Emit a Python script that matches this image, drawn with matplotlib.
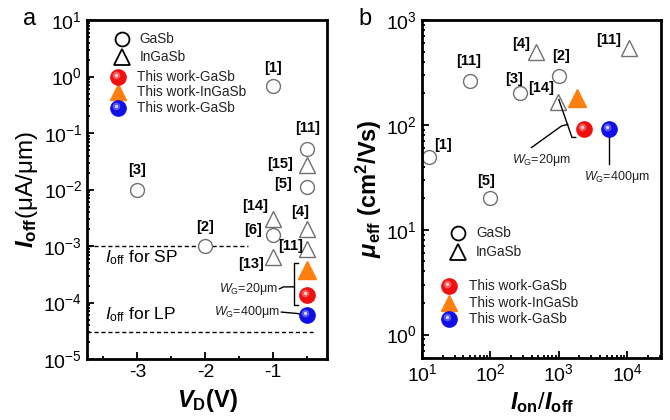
import numpy as np
import matplotlib
matplotlib.use("Agg")
from matplotlib import pyplot as plt
from matplotlib import transforms

plt.rcParams['font.family'] = ['Liberation Sans', 'DejaVu Sans']
plt.rcParams['mathtext.fontset'] = 'custom'
plt.rcParams['mathtext.rm'] = 'Liberation Sans:bold'
plt.rcParams['mathtext.bf'] = 'Liberation Sans:bold:italic'
plt.rcParams['mathtext.it'] = 'Liberation Sans:italic'
plt.rcParams['mathtext.sf'] = 'Liberation Sans'

# ---- panel a : Ioff vs VD ----
a_gasb_vd = [-1, -3, -0.5, -0.5, -2, -1]
a_gasb_ioff = [0.68, 0.01, 0.052, 0.011, 1.0e-3, 1.6e-3]
a_gasb_ref = ['[1]', '[3]', '[11]', '[5]', '[2]', '[6]']

a_ingasb_vd = [-0.5, -1, -1, -0.5, -0.5]
a_ingasb_ioff = [0.027, 3.0e-3, 6.5e-4, 2.0e-3, 9.0e-4]
a_ingasb_ref = ['[15]', '[14]', '[13]', '[4]', '[11]']

a_this_vd = [-0.5, -0.5, -0.5]           # red GaSb, orange InGaSb, blue GaSb
a_this_ioff = [1.35e-4, 3.8e-4, 6.0e-5]

sp_level = 1e-3
lp_level = 3e-5

# ---- panel b : mu_eff vs Ion/Ioff ----
b_gasb_ratio = [12.7, 51, 270, 100, 1000]
b_gasb_mu = [50, 263, 202, 20, 293]
b_gasb_ref = ['[1]', '[11]', '[3]', '[5]', '[2]']

b_ingasb_ratio = [460, 980, 10700]
b_ingasb_mu = [495, 166, 540]
b_ingasb_ref = ['[4]', '[14]', '[11]']

b_this_ratio = [2350, 1830, 5400]
b_this_mu = [91, 181, 91]

red = '#f01010'
orange = '#ff7f0e'
blue = '#1010e6'
gray = '#707070'
txt = '#222222'


def sphere(ax, x, y, color, size=11, transform=None):
    tr = ax.transData if transform is None else transform
    ax.plot(x, y, 'o', ms=size, color=color, mec=color, transform=tr, zorder=5)
    hl = transforms.offset_copy(tr, fig=ax.figure, x=-1.3, y=1.3, units='points')
    ax.plot(x, y, 'o', ms=size * 0.5, color='white', mec='none', alpha=0.3,
            transform=hl, zorder=6)
    hl2 = transforms.offset_copy(tr, fig=ax.figure, x=-1.6, y=1.6, units='points')
    ax.plot(x, y, 'o', ms=size * 0.22, color='white', mec='none', alpha=0.75,
            transform=hl2, zorder=6)


def style(ax):
    for s in ax.spines.values():
        s.set_linewidth(2)
    ax.tick_params(which='both', direction='in', top=False, right=False,
                   labelsize=14, width=1.3)
    ax.tick_params(which='major', length=5)
    ax.tick_params(which='minor', length=2.5)


def legend_block(ax, xs, ys, xt):
    t = ax.transAxes
    ax.plot(xs[0], ys[0], 'o', ms=10, mfc='white', mec='black', mew=1.3, transform=t, clip_on=False)
    ax.plot(xs[0], ys[1], '^', ms=11, mfc='white', mec='black', mew=1.3, transform=t, clip_on=False)
    ax.text(xt[0], ys[0], 'GaSb', transform=t, va='center', fontsize=9.8, color=txt)
    ax.text(xt[0], ys[1], 'InGaSb', transform=t, va='center', fontsize=9.8, color=txt)
    sphere(ax, xs[1], ys[2], red, transform=t)
    ax.plot(xs[1], ys[3], '^', ms=12, color=orange, transform=t)
    sphere(ax, xs[1], ys[4], blue, transform=t)
    ax.text(xt[1], ys[2], 'This work-GaSb', transform=t, va='center', fontsize=9.8, color=txt)
    ax.text(xt[1], ys[3], 'This work-InGaSb', transform=t, va='center', fontsize=9.8, color=txt)
    ax.text(xt[1], ys[4], 'This work-GaSb', transform=t, va='center', fontsize=9.8, color=txt)


fig = plt.figure(figsize=(6.7, 4.2), dpi=100)
ax1 = fig.add_axes([0.130, 0.145, 0.358, 0.807])
ax2 = fig.add_axes([0.630, 0.148, 0.357, 0.804])

# panel a
ax1.set_yscale('log')
ax1.set_xlim(-3.74, -0.21)
ax1.set_ylim(1e-5, 10)
ax1.plot(a_gasb_vd, a_gasb_ioff, 'o', ms=10, mfc='white', mec=gray, mew=1)
ax1.plot(a_ingasb_vd, a_ingasb_ioff, '^', ms=11, mfc='white', mec=gray, mew=1)
sphere(ax1, a_this_vd[0], a_this_ioff[0], red)
ax1.plot(a_this_vd[1], a_this_ioff[1], '^', ms=13, color=orange, zorder=5)
sphere(ax1, a_this_vd[2], a_this_ioff[2], blue)

ax1.plot([-3.74, -1.37], [sp_level, sp_level], 'k--', lw=1, dashes=(3, 2), zorder=1)
ax1.plot([-3.74, -0.42], [lp_level, lp_level], 'k--', lw=1, dashes=(3, 2), zorder=1)
ax1.text(-3.47, sp_level * 0.62, r'$\mathit{I}_{\mathsf{off}}$ for SP', fontsize=12.5, va='center')
ax1.text(-3.47, lp_level * 2.05, r'$\mathit{I}_{\mathsf{off}}$ for LP', fontsize=12.5, va='center')

a_off = {'[1]': (-1.0, 2.1), '[3]': (-3.0, 2.2), '[11]': (-0.5, 2.4), '[5]': (-0.86, 1.15),
         '[2]': (-2.0, 2.2), '[6]': (-1.3, 1.2)}
for r, x, y in zip(a_gasb_ref, a_gasb_vd, a_gasb_ioff):
    dx, f = a_off[r]
    ax1.text(dx, y * f, r, ha='center', va='center', fontsize=10.5, fontweight='bold')
a_off2 = {'[15]': (-0.9, 1.05), '[14]': (-1.27, 1.7), '[13]': (-1.33, 0.75),
          '[4]': (-0.6, 2.0), '[11]': (-0.74, 1.1)}
for r, x, y in zip(a_ingasb_ref, a_ingasb_vd, a_ingasb_ioff):
    dx, f = a_off2[r]
    ax1.text(dx, y * f, r, ha='center', va='center', fontsize=10.5, fontweight='bold')

# bracket + W_G labels (panel a)
bx = -0.7
ax1.plot([bx + 0.06, bx, bx, bx + 0.06], [5.0e-4, 5.0e-4, 9.0e-5, 9.0e-5], 'k-', lw=1)
ax1.plot([-0.91, -0.85, bx], [1.75e-4, 1.9e-4, 1.9e-4], 'k-', lw=1)
ax1.text(-0.93, 1.75e-4, r'$W_{\mathsf{G}}$=20μm', fontsize=9, ha='right', va='center', color=txt)
ax1.plot([-0.88, -0.64, -0.6], [6.8e-5, 6.4e-5, 6.2e-5], 'k-', lw=1)
ax1.text(-0.9, 6.8e-5, r'$W_{\mathsf{G}}$=400μm', fontsize=9, ha='right', va='center', color=txt)

legend_block(ax1, [0.146, 0.13], [0.944, 0.891, 0.832, 0.788, 0.740], [0.22, 0.21])

ax1.set_xticks([-3, -2, -1])
ax1.set_xticks([-3.5, -2.5, -1.5, -0.5], minor=True)
ax1.set_xticklabels(['-3', '-2', '-1'])
ax1.set_yticks([10.0 ** k for k in range(-5, 2)])
style(ax1)
ax1.set_xlabel(r'$\mathbf{V}_{\mathrm{D}}$(V)', fontsize=17, fontweight='bold', labelpad=4)
ax1.set_ylabel(r'$\mathbf{I}_{\mathrm{off}}$(μA/μm)', fontsize=17.5, labelpad=2)
fig.text(0.035, 0.955, 'a', fontsize=17, va='center')

# panel b
ax2.set_xscale('log')
ax2.set_yscale('log')
ax2.set_xlim(10, 3.16e4)
ax2.set_ylim(0.6, 1000)
ax2.plot(b_gasb_ratio, b_gasb_mu, 'o', ms=10, mfc='white', mec=gray, mew=1)
ax2.plot(b_ingasb_ratio, b_ingasb_mu, '^', ms=11, mfc='white', mec=gray, mew=1)
sphere(ax2, b_this_ratio[0], b_this_mu[0], red)
ax2.plot(b_this_ratio[1], b_this_mu[1], '^', ms=13, color=orange, zorder=5)
sphere(ax2, b_this_ratio[2], b_this_mu[2], blue)

b_off = {'[1]': (20, 1.3), '[11]': (48, 1.55), '[3]': (220, 1.35), '[5]': (87, 1.45), '[2]': (1080, 1.55)}
for r, x, y in zip(b_gasb_ref, b_gasb_ratio, b_gasb_mu):
    dx, f = b_off[r]
    ax2.text(dx, y * f, r, ha='center', va='center', fontsize=10.5, fontweight='bold')
b_off2 = {'[4]': (280, 1.2), '[14]': (560, 1.35), '[11]': (5300, 1.2)}
for r, x, y in zip(b_ingasb_ref, b_ingasb_ratio, b_ingasb_mu):
    dx, f = b_off2[r]
    ax2.text(dx, y * f, r, ha='center', va='center', fontsize=10.5, fontweight='bold')

# bracket + W_G labels (panel b)
ax2.plot([1000, 1560, 1770], [175, 76, 76], 'k-', lw=1)
ax2.plot([400, 1100, 1350], [61, 98, 101], 'k-', lw=1)
ax2.text(560, 55, r'$W_{\mathsf{G}}$=20μm', fontsize=9, ha='center', va='top', color=txt)
ax2.plot([5400, 5400], [76, 42], 'k-', lw=1)
ax2.text(7200, 38, r'$W_{\mathsf{G}}$=400μm', fontsize=9, ha='center', va='top', color=txt)

legend_block(ax2, [0.15, 0.113], [0.37, 0.314, 0.213, 0.163, 0.115], [0.226, 0.197])

style(ax2)
ax2.set_xlabel(r'$\mathbf{I}_{\mathrm{on}}$/$\mathbf{I}_{\mathrm{off}}$', fontsize=17, labelpad=4)
ax2.set_ylabel(r'$\mathbf{\mu}_{\mathrm{eff}}$ (cm$^{\mathrm{2}}$/Vs)', fontsize=17, fontweight='bold', labelpad=2)
fig.text(0.535, 0.955, 'b', fontsize=17, va='center')

fig.savefig('out.png', dpi=100)
